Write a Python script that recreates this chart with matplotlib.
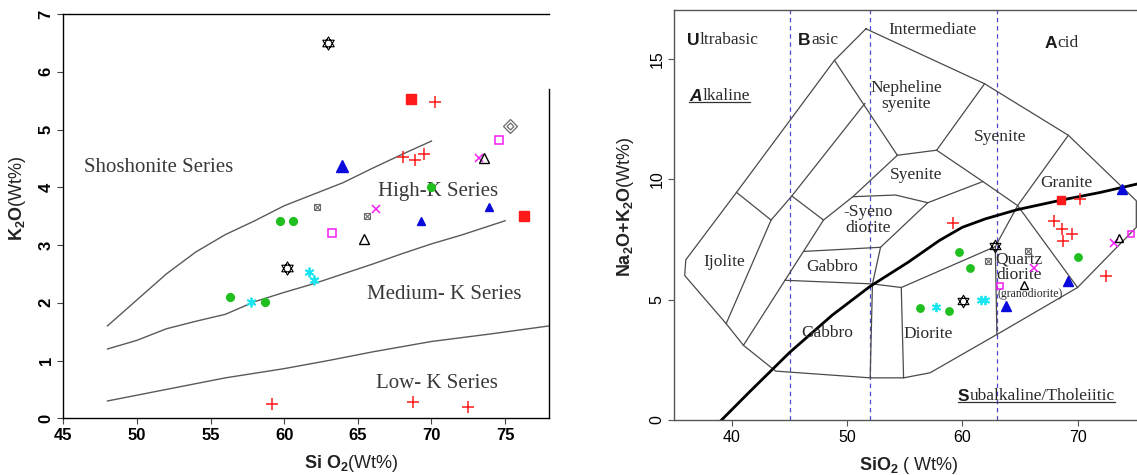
import matplotlib
matplotlib.use("Agg")
import matplotlib.pyplot as plt
from matplotlib.lines import Line2D
from matplotlib.path import Path

plt.rcParams.update({
    "font.family": ["Liberation Sans", "DejaVu Sans"],
    "mathtext.fontset": "custom",
    "mathtext.rm": "Liberation Sans",
    "mathtext.bf": "Liberation Sans:bold",
    "mathtext.it": "Liberation Sans:italic",
})

# ---------------- Left panel data (K2O vs SiO2) ----------------
k_xticks = [45, 50, 55, 60, 65, 70, 75]
k_yticks = [0, 1, 2, 3, 4, 5, 6, 7]

shosh_x = [48, 50, 52, 54, 56, 58, 60, 62, 64, 66, 68, 70]
shosh_y = [1.6, 2.05, 2.5, 2.88, 3.18, 3.42, 3.68, 3.88, 4.08, 4.33, 4.57, 4.8]
highk_x = [48, 50, 52, 54, 56, 58, 60, 62, 64, 66, 68, 70, 72, 75]
highk_y = [1.2, 1.35, 1.55, 1.68, 1.8, 2.02, 2.18, 2.33, 2.5, 2.67, 2.85, 3.02, 3.17, 3.42]
lowk_x = [48, 52, 56, 60, 63, 66, 70, 74, 78]
lowk_y = [0.3, 0.5, 0.7, 0.86, 1.0, 1.15, 1.33, 1.46, 1.6]

series_labels = ["Shoshonite Series", "High-K Series", "Medium- K Series", "Low- K Series"]
series_lab_x = [46.4, 66.4, 65.6, 66.2]
series_lab_y = [4.35, 3.92, 2.14, 0.61]

L_redplus_x = [70.26, 68.07, 68.85, 69.5, 59.2, 68.73, 72.5]
L_redplus_y = [5.48, 4.53, 4.47, 4.58, 0.25, 0.29, 0.2]
L_redsq_x = [68.6, 76.26]
L_redsq_y = [5.52, 3.50]
L_bluebig_x = [63.9]
L_bluebig_y = [4.36]
L_blue_x = [73.9, 69.3]
L_blue_y = [3.66, 3.41]
L_green_x = [70.0, 59.7, 60.6, 56.34, 58.72]
L_green_y = [4.0, 3.41, 3.41, 2.10, 2.01]
L_cyan_x = [61.7, 62.05, 57.75]
L_cyan_y = [2.53, 2.40, 2.02]
L_magx_x = [73.2, 66.2]
L_magx_y = [4.50, 3.62]
L_magsq_x = [74.6, 63.27]
L_magsq_y = [4.81, 3.2]
L_blktri_x = [73.6, 65.4]
L_blktri_y = [4.50, 3.11]
L_hex_x = [63.0, 60.16]
L_hex_y = [6.50, 2.61]
L_grayx_x = [62.25, 65.65]
L_grayx_y = [3.65, 3.50]
L_graydia_x = [75.3]
L_graydia_y = [5.06]

# ---------------- Right panel data (TAS) ----------------
t_xticks = [40, 50, 60, 70]
t_yticks = [0, 5, 10, 15]
silica_divisions = [45, 52, 63]

tas_outer = [(51.63, 16.24), (48.9, 14.93), (40.4, 9.45), (36.0, 6.65), (35.9, 6.0),
             (39.5, 4.0), (41.0, 3.1), (43.8, 2.03), (52.0, 1.75), (54.9, 1.75),
             (57.2, 1.96), (63.0, 3.55), (70.0, 5.5), (75.1, 8.0), (75.1, 9.1),
             (73.8, 9.7), (69.2, 11.82), (61.93, 13.96), (51.63, 16.24)]
tas_inner = [
    [(48.9, 14.93), (54.36, 10.99)],
    [(54.36, 10.99), (57.77, 11.2), (61.93, 13.96)],
    [(57.77, 11.2), (61.78, 9.9), (64.8, 8.9), (70.0, 5.5)],
    [(69.2, 11.82), (64.8, 8.9), (62.86, 7.2), (63.0, 3.55)],
    [(51.54, 13.14), (45.2, 9.3), (43.4, 8.3)],
    [(40.4, 9.45), (43.4, 8.3), (39.5, 4.0)],
    [(45.2, 9.3), (47.95, 8.3), (41.0, 3.1)],
    [(54.36, 10.99), (50.5, 9.27), (47.95, 8.3)],
    [(50.5, 9.27), (54.2, 9.34), (57.0, 9.02), (61.78, 9.9)],
    [(57.0, 9.02), (52.9, 7.17), (52.2, 5.65), (52.0, 1.75)],
    [(46.3, 7.0), (52.9, 7.17)],
    [(44.6, 5.8), (52.2, 5.65), (54.7, 5.5), (62.86, 7.2)],
    [(54.7, 5.5), (54.9, 1.75)],
]
alk_x = [39.1, 41.6, 45.0, 48.7, 52.0, 55.3, 58.0, 60.0, 62.0, 64.75, 68.5, 72.0, 75.2]
alk_y = [0.0, 1.2, 2.8, 4.35, 5.55, 6.55, 7.45, 8.0, 8.35, 8.73, 9.12, 9.45, 9.8]

field_names = ["Nepheline\nsyenite", "Syenite", "Syenite", "Granite", "-Syeno\ndiorite",
               "Ijolite", "Gabbro", "Gabbro", "Diorite", "Quartz\ndiorite"]
field_x = [55.1, 63.3, 56.0, 69.05, 51.8, 39.3, 48.7, 48.3, 57.0, 64.9]
field_y = [13.45, 11.75, 10.17, 9.85, 8.3, 6.56, 6.34, 3.62, 3.55, 6.35]

R_redplus_x = [70.2, 59.23, 67.94, 68.67, 69.54, 68.76, 72.5]
R_redplus_y = [9.16, 8.18, 8.26, 7.92, 7.74, 7.43, 5.97]
R_redsq_x = [68.58]
R_redsq_y = [9.12]
R_blue_x = [73.9, 69.16, 63.82]
R_blue_y = [9.6, 5.78, 4.74]
R_green_x = [70.03, 59.73, 60.63, 56.34, 58.86]
R_green_y = [6.77, 6.98, 6.32, 4.66, 4.52]
R_cyan_x = [61.6, 62.0, 57.73]
R_cyan_y = [4.98, 5.0, 4.70]
R_magx_x = [73.2, 66.2]
R_magx_y = [7.33, 6.29]
R_magsq_x = [74.67, 63.24]
R_magsq_y = [7.74, 5.57]
R_blktri_x = [73.6, 65.39]
R_blktri_y = [7.57, 5.6]
R_hex_x = [62.86, 60.05]
R_hex_y = [7.21, 4.95]
R_grayx_x = [65.67, 62.19]
R_grayx_y = [7.02, 6.6]

SERIF = "Liberation Serif"
RED = "#ff1a1a"
BLUE = "#0a0adc"
GREEN = "#1fbf1f"
CYAN = "#19e6f0"
MAG = "#f21cf2"
GRAY = "#6a6a6a"

# star-of-David marker: two equilateral triangles sharing a centre
_c, _s = 0.866, 0.5
HEXAGRAM = Path(
    [(0, 1), (-_c, -_s), (_c, -_s), (0, 1), (0, -1), (-_c, _s), (_c, _s), (0, -1)],
    [Path.MOVETO, Path.LINETO, Path.LINETO, Path.CLOSEPOLY,
     Path.MOVETO, Path.LINETO, Path.LINETO, Path.CLOSEPOLY])

fig = plt.figure(figsize=(11.37, 4.75), dpi=100)
fig.patch.set_facecolor("white")
axL = fig.add_axes([0.05567, 0.11937, 0.42744, 0.85116])
axR = fig.add_axes([0.59305, 0.11579, 0.40695, 0.86211])


def pts(ax, x, y, marker, color, ms, filled=True, mew=1.0, z=5):
    ax.plot(x, y, ls="none", marker=marker, ms=ms, mew=mew,
            mfc=color if filled else "none", mec=color, zorder=z, clip_on=True)


def draw_markers(ax, s, scale=1.0):
    pts(ax, s["redplus"][0], s["redplus"][1], "+", RED, 9 * scale, mew=1.1)
    pts(ax, s["redsq"][0], s["redsq"][1], "s", RED, 6.5 * scale)
    for bx, by, bs in s["blue"]:
        pts(ax, bx, by, "^", BLUE, bs * scale)
    pts(ax, s["green"][0], s["green"][1], "o", GREEN, 5.6 * scale)
    pts(ax, s["cyan"][0], s["cyan"][1], (6, 2, 0), CYAN, 7 * scale, mew=1.3)
    pts(ax, s["magx"][0], s["magx"][1], "x", MAG, 5.5 * scale, mew=1.1)
    pts(ax, s["magsq"][0], s["magsq"][1], "s", MAG, 5.2 * scale, filled=False, mew=1.1)
    pts(ax, s["blktri"][0], s["blktri"][1], "^", "black", 6.5 * scale, filled=False, mew=1.0)
    pts(ax, s["hex"][0], s["hex"][1], HEXAGRAM, "black", 9.5 * scale, filled=False, mew=0.8)
    pts(ax, s["grayx"][0], s["grayx"][1], "s", GRAY, 4.5 * scale, filled=False, mew=0.8)
    pts(ax, s["grayx"][0], s["grayx"][1], "x", GRAY, 4.5 * scale, mew=0.8)
    if "graydia" in s:
        pts(ax, s["graydia"][0], s["graydia"][1], "D", GRAY, 7 * scale, filled=False, mew=0.9)
        pts(ax, s["graydia"][0], s["graydia"][1], "D", GRAY, 3.5 * scale, filled=False, mew=0.9)


# ---------------- Left panel ----------------
for bx, by in [(shosh_x, shosh_y), (highk_x, highk_y), (lowk_x, lowk_y)]:
    axL.plot(bx, by, color="#5a5a5a", lw=1.0, zorder=2)
for lab, lx, ly in zip(series_labels, series_lab_x, series_lab_y):
    axL.text(lx, ly, lab, family=SERIF, fontsize=15, color="#3a3a3a", ha="left", va="center")

draw_markers(axL, {
    "redplus": (L_redplus_x, L_redplus_y), "redsq": (L_redsq_x, L_redsq_y),
    "blue": [(L_bluebig_x, L_bluebig_y, 9), (L_blue_x, L_blue_y, 6)],
    "green": (L_green_x, L_green_y), "cyan": (L_cyan_x, L_cyan_y),
    "magx": (L_magx_x, L_magx_y), "magsq": (L_magsq_x, L_magsq_y),
    "blktri": (L_blktri_x, L_blktri_y), "hex": (L_hex_x, L_hex_y),
    "grayx": (L_grayx_x, L_grayx_y), "graydia": (L_graydia_x, L_graydia_y),
})

axL.set_xlim(45, 78)
axL.set_ylim(0, 7)
axL.set_xticks(k_xticks)
axL.set_yticks(k_yticks)
axL.tick_params(direction="out", length=4, width=0.8, color="#444", labelsize=12, pad=3)
axL.tick_params(axis="y", labelrotation=90)
for lab in axL.get_xticklabels() + axL.get_yticklabels():
    lab.set_fontweight("bold")
for lab in axL.get_yticklabels():
    lab.set_va("center")
for sp in axL.spines.values():
    sp.set_linewidth(1.0)
axL.spines["right"].set_bounds(0, 5.7)
axL.set_xlabel(r"$\mathbf{Si\ O_2}$(Wt%)", fontsize=13, color="#222", labelpad=4)
axL.xaxis.set_label_coords(0.593, -0.085)
axL.set_ylabel(r"$\mathbf{K_2O}$(Wt%)", fontsize=13, color="#222")
axL.yaxis.set_label_coords(-0.072, 0.545)

# ---------------- Right panel ----------------
ox = [p[0] for p in tas_outer]
oy = [p[1] for p in tas_outer]
axR.plot(ox, oy, color="#4a4a4a", lw=0.9, zorder=2)
for seg in tas_inner:
    axR.plot([p[0] for p in seg], [p[1] for p in seg], color="#4a4a4a", lw=0.9, zorder=2)
for sx in silica_divisions:
    axR.axvline(sx, color="#4a4ad0", lw=0.9, ls=(0, (3.5, 3)), zorder=1)
axR.plot(alk_x, alk_y, color="black", lw=2.0, zorder=3)

for name, fx, fy in zip(field_names, field_x, field_y):
    axR.text(fx, fy, name, family=SERIF, fontsize=12.5, color="#2a2a2a",
             ha="center", va="center", linespacing=0.95, zorder=4)
axR.text(65.9, 5.22, "(granodiorite)", family=SERIF, fontsize=8.5, color="#2a2a2a",
         ha="center", va="center", zorder=4)
axR.text(53.6, 16.2, "Intermediate", family=SERIF, fontsize=12.5, color="#2a2a2a",
         ha="left", va="center", zorder=4)

mixed = []


def mixed_label(ax, x, y, first, rest, fs=12.5, fstyle="normal", underline=False):
    t1 = ax.text(x, y, first, fontsize=fs, fontweight="bold", family="Liberation Sans",
                 style=fstyle, ha="left", va="baseline", color="#1a1a1a", zorder=4)
    t2 = ax.annotate(rest, xy=(1, 0), xycoords=t1, xytext=(0.3, 0), textcoords="offset points",
                     fontsize=fs, family=SERIF, ha="left", va="bottom", color="#2a2a2a", zorder=4)
    mixed.append((t1, t2, fs, underline))


mixed_label(axR, 36.1, 15.55, "U", "ltrabasic")
mixed_label(axR, 45.75, 15.55, "B", "asic")
mixed_label(axR, 67.1, 15.45, "A", "cid")
mixed_label(axR, 36.3, 13.25, "A", "lkaline", fstyle="italic", underline=True)
mixed_label(axR, 59.6, 0.78, "S", "ubalkaline/Tholeiitic", underline=True)

draw_markers(axR, {
    "redplus": (R_redplus_x, R_redplus_y), "redsq": (R_redsq_x, R_redsq_y),
    "blue": [(R_blue_x, R_blue_y, 7)],
    "green": (R_green_x, R_green_y), "cyan": (R_cyan_x, R_cyan_y),
    "magx": (R_magx_x, R_magx_y), "magsq": (R_magsq_x, R_magsq_y),
    "blktri": (R_blktri_x, R_blktri_y), "hex": (R_hex_x, R_hex_y),
    "grayx": (R_grayx_x, R_grayx_y),
}, scale=0.95)

axR.set_xlim(35, 75.16)
axR.set_ylim(0, 17)
axR.set_xticks(t_xticks)
axR.set_yticks(t_yticks)
axR.tick_params(direction="out", length=4, width=0.8, color="#555", labelsize=11.5, pad=3)
axR.tick_params(axis="y", labelrotation=90)
for lab in axR.get_yticklabels():
    lab.set_va("center")
axR.spines["right"].set_visible(False)
for sp in ["left", "bottom", "top"]:
    axR.spines[sp].set_color("#555")
    axR.spines[sp].set_linewidth(1.0)
axR.set_xlabel(r"$\mathbf{SiO_2}$ ( Wt%)", fontsize=13, color="#222")
axR.xaxis.set_label_coords(0.507, -0.085)
axR.set_ylabel(r"$\mathbf{Na_2O{+}K_2O}$(Wt%)", fontsize=13, color="#222")
axR.yaxis.set_label_coords(-0.083, 0.52)

# underlines for underlined labels
fig.canvas.draw()
renderer = fig.canvas.get_renderer()
W, H = fig.bbox.width, fig.bbox.height
for t1, t2, fs, ul in mixed:
    if not ul:
        continue
    b1 = t1.get_window_extent(renderer)
    b2 = t2.get_window_extent(renderer)
    em = fs * fig.dpi / 72.0
    yb = b2.y0 + 0.216 * em - 2.0
    fig.add_artist(Line2D([b1.x0 / W, b2.x1 / W], [yb / H, yb / H],
                          transform=fig.transFigure, color="#333", lw=0.9))

fig.savefig("out.png", dpi=100, facecolor="white")
